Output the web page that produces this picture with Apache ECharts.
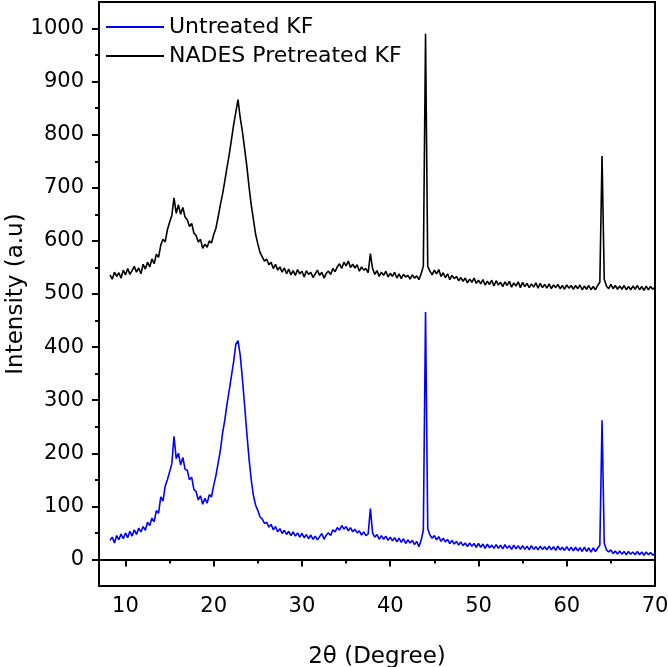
<!DOCTYPE html>
<html>
<head>
<meta charset="utf-8">
<script src="https://cdn.jsdelivr.net/npm/echarts@6/dist/echarts.min.js"></script>
<style>
html,body{margin:0;padding:0;background:#fff;}
#chart{width:668px;height:667px;}
</style>
</head>
<body>
<div id="chart"></div>
<script>
// 2θ positions (degrees)
var twoTheta = [
 8.25,8.5,8.75,
 9,9.25,9.5,9.75, 10,10.25,10.5,10.75, 11,11.25,11.5,11.75, 12,12.25,12.5,12.75,
 13,13.25,13.5,13.75, 14,14.25,14.5,14.75, 15,15.25,15.5,15.75, 16,16.25,16.5,16.75,
 17,17.25,17.5,17.75, 18,18.25,18.5,18.75, 19,19.25,19.5,19.75, 20,20.25,20.5,20.75,
 21,21.25,21.5,21.75, 22,22.25,22.5,22.75, 23,23.25,23.5,23.75, 24,24.25,24.5,24.75,
 25,25.25,25.5,25.75, 26,26.25,26.5,26.75, 27,27.25,27.5,27.75, 28,28.25,28.5,28.75,
 29,29.25,29.5,29.75, 30,30.25,30.5,30.75, 31,31.25,31.5,31.75, 32,32.25,32.5,32.75,
 33,33.25,33.5,33.75, 34,34.25,34.5,34.75, 35,35.25,35.5,35.75, 36,36.25,36.5,36.75,
 37,37.25,37.5,37.75, 38,38.25,38.5,38.75, 39,39.25,39.5,39.75, 40,40.25,40.5,40.75,
 41,41.25,41.5,41.75, 42,42.25,42.5,42.75, 43,43.25,43.5,43.75, 44,44.25,44.5,44.75,
 45,45.25,45.5,45.75, 46,46.25,46.5,46.75, 47,47.25,47.5,47.75, 48,48.25,48.5,48.75,
 49,49.25,49.5,49.75, 50,50.25,50.5,50.75, 51,51.25,51.5,51.75, 52,52.25,52.5,52.75,
 53,53.25,53.5,53.75, 54,54.25,54.5,54.75, 55,55.25,55.5,55.75, 56,56.25,56.5,56.75,
 57,57.25,57.5,57.75, 58,58.25,58.5,58.75, 59,59.25,59.5,59.75, 60,60.25,60.5,60.75,
 61,61.25,61.5,61.75, 62,62.25,62.5,62.75, 63,63.25,63.5,63.75, 64,64.25,64.5,64.75,
 65,65.25,65.5,65.75, 66,66.25,66.5,66.75, 67,67.25,67.5,67.75, 68,68.25,68.5,68.75,
 69,69.25,69.5,69.75, 70
];

// Untreated KF intensity
var untreated = [
 36,42,31,
 45,37,48,39, 50,41,53,44, 56,47,59,52, 62,55,70,64,
 78,71,92,87, 118,110,138,150, 165,180,232,190, 200,178,192,170,
 168,150,155,132, 128,112,120,104, 115,106,122,118, 140,158,182,205,
 238,262,292,318, 345,372,405,412, 385,340,290,238, 190,150,120,102,
 92,80,76,68, 70,61,66,56, 62,52,58,49, 55,47,53,45,
 52,44,50,42, 49,41,47,39, 46,38,44,37, 43,49,38,46,
 50,45,56,52, 60,55,64,57, 62,54,60,52, 57,50,54,46,
 52,45,48,96, 50,42,47,38, 45,38,44,36, 42,35,41,33,
 40,32,39,30, 37,31,36,28, 34,24,36,55, 466,58,46,40,
 45,37,43,34, 40,33,38,30, 36,29,34,27, 33,26,31,24,
 31,25,30,23, 30,23,29,21, 29,22,27,21, 28,21,27,20,
 28,21,26,19, 27,20,26,19, 26,19,25,18, 26,19,24,18,
 25,19,24,18, 25,18,24,17, 25,18,23,17, 24,17,23,16,
 23,16,22,15, 23,15,22,14, 22,15,21,27, 262,31,18,14,
 18,11,16,10, 16,10,15,9, 15,10,14,9, 15,9,14,8,
 14,9,13,8, 12
];

// NADES Pretreated KF intensity
var nadesPretreated = [
 536,528,541,
 533,540,530,545, 536,548,537,544, 552,541,549,538, 556,547,560,551,
 566,557,575,569, 592,603,598,621, 635,648,681,652, 668,650,663,645,
 640,627,633,615, 610,598,603,586, 594,588,600,596, 612,624,645,668,
 688,712,738,762, 790,818,842,866, 832,806,774,741, 702,668,640,612,
 594,578,570,562, 566,555,560,548, 556,545,551,541, 549,538,547,536,
 544,535,546,538, 543,532,544,537, 541,531,538,545, 535,541,530,539,
 543,537,548,542, 551,557,548,560, 553,562,550,556, 549,555,543,551,
 545,548,540,576, 548,537,544,533, 541,535,543,532, 539,533,541,530,
 538,529,537,532, 535,528,536,530, 534,527,538,552, 990,552,543,536,
 545,538,546,533, 540,531,538,527, 535,529,533,525, 531,524,530,521,
 528,522,530,520, 526,519,527,517, 524,518,526,515, 525,517,522,514,
 523,516,524,513, 521,515,523,512, 522,514,520,512, 519,513,521,511,
 520,512,518,511, 519,510,517,512, 518,510,516,509, 517,511,516,509,
 516,510,517,508, 515,509,516,508, 514,508,516,522, 760,528,515,510,
 518,510,516,509, 515,509,516,508, 514,508,515,509, 516,508,514,507,
 515,508,514,509, 513
];

var seriesNames = ['Untreated KF', 'NADES Pretreated KF'];
var yMajorTicks = [0,100,200,300,400,500,600,700,800,900,1000];
var yMinorTicks = [50,150,250,350,450,550,650,750,850,950];
var xMajorTicks = [10,20,30,40,50,60,70];
var xMinorTicks = [15,25,35,45,55,65];

function pairs(xs, ys) {
  var out = [];
  for (var i = 0; i < xs.length; i++) out.push([xs[i], ys[i]]);
  return out;
}

var FONT = '"DejaVu Sans", sans-serif';
var chart = echarts.init(document.getElementById('chart'), null, {renderer: 'canvas'});
chart.setOption({
  animation: false,
  backgroundColor: '#fff',
  grid: {left: 99, right: 13, top: 2, bottom: 81, show: true, borderColor: '#000', borderWidth: 2,
         backgroundColor: 'transparent', outerBoundsMode: 'none', containLabel: false},
  legend: {
    left: 101, top: 11, orient: 'vertical', itemGap: 7,
    itemWidth: 58, itemHeight: 2, icon: 'rect',
    textStyle: {fontFamily: FONT, fontSize: 22, color: '#000'},
    data: seriesNames
  },
  xAxis: [{
    type: 'value', min: 7, max: 70,
    name: '2θ (Degree)', nameLocation: 'middle', nameGap: 60, nameMoveOverlap: false,
    nameTextStyle: {fontFamily: FONT, fontSize: 23, color: '#000'},
    axisLine: {show: true, lineStyle: {color: '#000', width: 2}},
    axisTick: {show: true, inside: false, length: 7, lineStyle: {color: '#000', width: 2}, customValues: xMajorTicks},
    axisLabel: {fontFamily: FONT, fontSize: 21, color: '#000', margin: 10, customValues: xMajorTicks,
                formatter: function (v) { return String(v); }},
    splitLine: {show: false}
  }, {
    type: 'value', min: 7, max: 70, position: 'bottom',
    axisLine: {show: false},
    axisTick: {show: true, inside: false, length: 4, lineStyle: {color: '#000', width: 2}, customValues: xMinorTicks},
    axisLabel: {show: false},
    splitLine: {show: false}
  }],
  yAxis: [{
    type: 'value', min: -50, max: 1050,
    name: 'Intensity (a.u)', nameLocation: 'middle', nameGap: 71, nameMoveOverlap: false,
    nameTextStyle: {fontFamily: FONT, fontSize: 23, color: '#000'},
    axisLine: {show: true, lineStyle: {color: '#000', width: 2}},
    axisTick: {show: true, inside: false, length: 7, lineStyle: {color: '#000', width: 2}, customValues: yMajorTicks},
    axisLabel: {fontFamily: FONT, fontSize: 21, color: '#000', margin: 15, customValues: yMajorTicks,
                formatter: function (v) { return String(v); }},
    splitLine: {show: false}
  }, {
    type: 'value', min: -50, max: 1050, position: 'left',
    axisLine: {show: false},
    axisTick: {show: true, inside: false, length: 4, lineStyle: {color: '#000', width: 2}, customValues: yMinorTicks},
    axisLabel: {show: false},
    splitLine: {show: false}
  }],
  series: [{
    name: seriesNames[0], type: 'line', showSymbol: false, symbol: 'none',
    xAxisIndex: 0, yAxisIndex: 0,
    lineStyle: {color: '#0000ff', width: 1.6}, itemStyle: {color: '#0000ff'},
    data: pairs(twoTheta, untreated)
  }, {
    name: seriesNames[1], type: 'line', showSymbol: false, symbol: 'none',
    xAxisIndex: 0, yAxisIndex: 0,
    lineStyle: {color: '#000000', width: 1.6}, itemStyle: {color: '#000000'},
    data: pairs(twoTheta, nadesPretreated)
  }]
});
</script>
</body>
</html>
